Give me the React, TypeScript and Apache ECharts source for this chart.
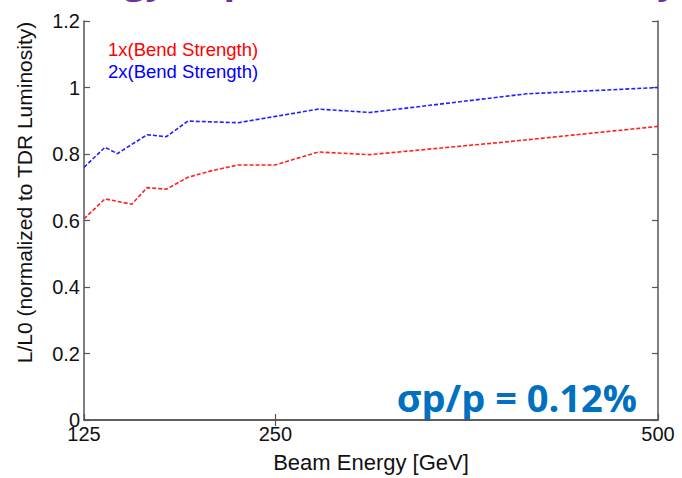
import React, { useEffect, useRef } from "react";
import * as echarts from "echarts";

const energy1x = [125, 138.7, 156.2, 166.2, 178.8, 192.9, 208.6, 225.8, 249.8, 278.1, 311.8, 400, 500];
const lum1x = [0.605, 0.665, 0.649, 0.699, 0.694, 0.730, 0.750, 0.767, 0.767, 0.806, 0.798, 0.836, 0.883];

const energy2x = [125, 138.7, 146.8, 166.2, 178.8, 192.9, 225.8, 278.1, 311.8, 357.6, 414.2, 455.6, 500];
const lum2x = [0.760, 0.820, 0.801, 0.858, 0.852, 0.899, 0.894, 0.935, 0.925, 0.950, 0.981, 0.990, 1.0];

const seriesNames = ["1x(Bend Strength)", "2x(Bend Strength)"];
const xTicks = [125, 250, 500];
const xTopTicks = [250];

const FONT = "Liberation Sans, Arial, sans-serif";
const AXIS_COLOR = "#555";

export default function App() {
  const ref = useRef<HTMLDivElement>(null);
  useEffect(() => {
    document.body.style.margin = "0";
    const chart = echarts.init(ref.current!, null, { renderer: "svg" });
    const axisLine = { show: true, lineStyle: { color: AXIS_COLOR, width: 1.5 } };
    const tickStyle = { lineStyle: { color: AXIS_COLOR, width: 1.2 } };
    chart.setOption({
      animation: false,
      backgroundColor: "#fff",
      grid: { left: 84, right: 24, top: 21, bottom: 43, containLabel: false },
      legend: {
        orient: "vertical",
        left: 97,
        top: 35,
        itemWidth: 0,
        itemHeight: 0,
        itemGap: 3,
        selectedMode: false,
        textStyle: { fontSize: 18.5, fontFamily: FONT },
        data: [
          { name: seriesNames[0], textStyle: { color: "#ff0000" } },
          { name: seriesNames[1], textStyle: { color: "#0000ff" } },
        ],
      },
      xAxis: [
        {
          type: "value",
          position: "bottom",
          min: 125,
          max: 500,
          axisLine,
          axisTick: { show: true, inside: true, length: 6, customValues: xTicks, ...tickStyle },
          axisLabel: { customValues: xTicks, fontSize: 20, fontFamily: FONT, color: "#111", margin: 4 },
          splitLine: { show: false },
          name: "Beam Energy [GeV]",
          nameLocation: "middle",
          nameGap: 31,
          nameTextStyle: { fontSize: 22, fontFamily: FONT, color: "#111" },
        },
        {
          type: "value",
          position: "top",
          min: 125,
          max: 500,
          axisLine,
          axisTick: { show: true, inside: true, length: 6, customValues: xTopTicks, ...tickStyle },
          axisLabel: { show: false },
          splitLine: { show: false },
        },
      ],
      yAxis: [
        {
          type: "value",
          position: "left",
          min: 0,
          max: 1.2,
          interval: 0.2,
          axisLine,
          axisTick: { show: true, inside: true, length: 6, ...tickStyle },
          axisLabel: {
            fontSize: 20,
            fontFamily: FONT,
            color: "#111",
            margin: 4,
            formatter: (v: number) => String(Math.round(v * 10) / 10),
          },
          splitLine: { show: false },
          name: "L/L0 (normalized to TDR Luminosity)",
          nameLocation: "middle",
          nameGap: 49,
          nameTextStyle: { fontSize: 21, fontFamily: FONT, color: "#111", padding: [0, 0, 0, 56] },
        },
        {
          type: "value",
          position: "right",
          min: 0,
          max: 1.2,
          interval: 0.2,
          axisLine,
          axisTick: { show: true, inside: true, length: 6, ...tickStyle },
          axisLabel: { show: false },
          splitLine: { show: false },
        },
      ],
      series: [
        {
          name: seriesNames[0],
          type: "line",
          data: energy1x.map((e, i) => [e, lum1x[i]]),
          symbol: "none",
          color: "#ff2020",
          lineStyle: { color: "#ff2020", width: 1.6, type: [4, 2] },
        },
        {
          name: seriesNames[1],
          type: "line",
          data: energy2x.map((e, i) => [e, lum2x[i]]),
          symbol: "none",
          color: "#2020ff",
          lineStyle: { color: "#2020ff", width: 1.6, type: [4, 2] },
        },
      ],
      graphic: [
        {
          type: "text",
          left: 38,
          top: -41,
          style: {
            text: "Energy dependence of Luminosity",
            font: "bold 38px 'Open Sans', sans-serif",
            fill: "#7030a0",
          },
        },
        {
          type: "text",
          x: 637,
          y: 397,
          style: {
            text: "σp/p = 0.12%",
            font: "bold 38px 'Open Sans', sans-serif",
            fill: "#0070c0",
            align: "right",
            verticalAlign: "middle",
          },
        },
      ],
    });
    return () => chart.dispose();
  }, []);
  return <div ref={ref} style={{ width: 682, height: 478 }} />;
}
